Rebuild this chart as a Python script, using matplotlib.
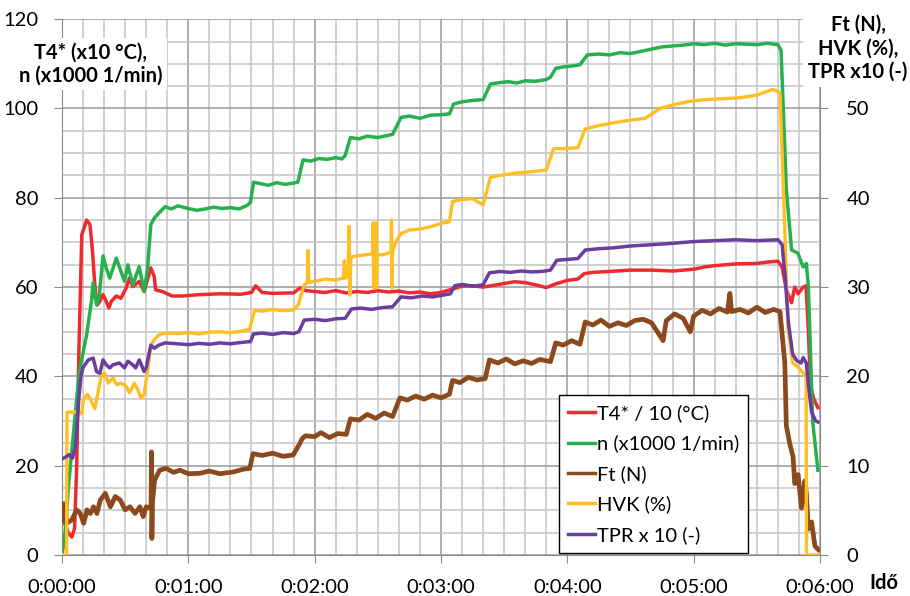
import matplotlib
matplotlib.use("Agg")
import matplotlib.pyplot as plt
from matplotlib.ticker import MultipleLocator, FuncFormatter

plt.rcParams['font.family'] = ['Lato', 'DejaVu Sans']

# --- adatok (idő másodpercben) ---
# T4* / 10 (°C) - bal tengely
t_t4 = [0, 1.5, 3, 4.7, 6, 7, 8, 9.4, 11.7, 13.3,
        14.5, 15.6, 16.7, 18, 19.5, 21, 22.3, 23.4, 25.8, 28,
        30.5, 32, 33.6, 36.7, 39, 42.2, 43.8, 44.5, 47.7, 52.3,
        57, 65, 75, 85, 90, 92, 95, 100, 110, 113,
        116, 120, 125, 130, 135, 140, 145, 150, 155, 160,
        165, 170, 175, 180, 185, 190, 195, 200, 205, 210,
        215, 220, 225, 230, 235, 240, 245, 248, 252, 260,
        270, 280, 290, 300, 305, 310, 320, 330, 335, 340,
        342, 344, 346.5, 348, 349.6, 352, 353.4, 354.5, 355.5, 357, 359]
t4 = [7, 7, 5, 4, 6, 20, 45, 71.7, 75, 74,
      68, 60.5, 56, 56.8, 58.3, 56.8, 55.3, 56.8, 58, 57.5,
      59.8, 62, 60.1, 61.3, 59, 64.3, 62.4, 59.4, 59, 58,
      58, 58.3, 58.5, 58.4, 58.8, 60.3, 58.8, 58.6, 58.7, 59.8,
      59.2, 59, 58.8, 59.2, 58.7, 59, 58.8, 59.2, 58.9, 59.1,
      58.7, 58.9, 58.5, 58.8, 59.5, 60.2, 60.3, 60, 60.4, 60.8,
      61.2, 61, 60.5, 59.9, 60.8, 61.5, 61.8, 63, 63.3, 63.5,
      63.8, 63.8, 63.6, 64, 64.5, 64.8, 65.2, 65.3, 65.6, 65.8,
      64.5, 59.5, 56.5, 60, 58.5, 60, 60.3, 50, 38, 35, 33]

# n (x1000 1/min) - bal tengely
t_n = [0, 1, 2, 3, 4.6, 6, 7.8, 8.6, 11.7, 14,
       14.8, 16.4, 17.6, 19.5, 21, 22.7, 25.8, 28, 29.7, 31.3,
       33.6, 36.7, 39, 40.6, 42.2, 43.8, 46, 49, 52, 55,
       60, 64, 68, 72, 76, 80, 84, 88, 89.5, 91,
       94, 98, 102, 106, 110, 112, 114.5, 118, 122, 126,
       130, 133, 134.5, 137, 141, 145, 150, 154, 157, 161,
       165, 170, 175, 180, 184, 186, 190, 195, 200, 203.5,
       208, 212, 216, 220, 225, 230, 232, 234.5, 238, 242,
       246, 249.5, 255, 260, 265, 270, 275, 280, 285, 290,
       295, 300, 305, 310, 315, 320, 325, 330, 335, 340,
       341.5, 344, 346.5, 349.5, 352, 353.5, 354.5, 356.5, 359]
n = [0, 3, 8, 15, 23, 30, 39, 42, 49.3, 56.8,
     61, 56, 57.5, 67, 64.3, 62, 66.5, 63.5, 61.3, 65,
     60.5, 64.6, 59, 64, 74, 75.4, 76.6, 78, 77.5, 78.2,
     77.6, 77.2, 77.5, 77.9, 77.6, 77.8, 77.5, 78.3, 79, 83.5,
     83.2, 82.8, 83.4, 83, 83.3, 83.5, 88.5, 88.2, 88.8, 88.6,
     89, 88.7, 89.5, 93.5, 93.2, 93.8, 93.5, 93.9, 94.2, 98,
     98.3, 97.8, 98.5, 98.6, 98.8, 101, 101.5, 101.8, 102, 105.5,
     105.8, 106, 105.7, 106.2, 106.1, 106.5, 107, 109, 109.3, 109.5,
     109.8, 112, 112.2, 112, 112.5, 112.3, 112.8, 113.3, 113.8, 114,
     114.2, 114.5, 114.3, 114.6, 114.2, 114.5, 114.4, 114.3, 114.6, 114.3,
     113, 82, 68.3, 67.6, 64.5, 65.3, 60, 30, 19]

# Ft (N) - jobb tengely
t_ft = [0, 0.8, 1.5, 2.2, 3.5, 4.6, 7, 8.7, 10.3, 11.9,
        13.5, 15, 16.6, 18.2, 20.6, 23, 25.3, 27.7, 30, 32.3,
        34.7, 37, 38.6, 40, 42.3, 42.5, 42.7, 43, 44, 46.4,
        49.5, 53, 56, 60, 65.5, 70, 75, 81.3, 86, 89.2,
        90.7, 95, 100, 105, 109.8, 113, 114, 115.6, 120, 123,
        127, 131, 135, 137, 141, 145, 149, 153, 157, 160.5,
        164, 168, 172, 176, 180, 184, 185.5, 189, 193, 197,
        201, 203, 207, 211, 215, 219, 223, 227, 232, 234.5,
        238, 242, 246, 248.5, 252, 256, 260, 264, 268, 272,
        276, 280, 285.5, 287, 291, 295, 298.4, 300, 304, 308,
        312, 316, 317.2, 318, 322, 326, 330, 334, 338, 341,
        343.3, 344, 345.6, 347.2, 348, 349.6, 351.2, 352.8, 353.6, 354.4,
        356, 357.6, 359.2]
ft = [3.9, 5.75, 5.25, 3.55, 3.75, 3.9, 5.05, 4.65, 3.55, 5.05,
      4.65, 5.4, 4.65, 6.15, 6.9, 5.4, 6.55, 6.15, 5.05, 5.4,
      4.65, 5.4, 4.3, 5.4, 5.25, 11.55, 1.85, 6.0, 8.4, 9.5,
      9.7, 9.25, 9.5, 9.1, 9.15, 9.4, 9.1, 9.3, 9.6, 9.7,
      11.35, 11.15, 11.4, 11.05, 11.2, 12.5, 13.0, 13.35, 13.25, 13.7,
      13.15, 13.6, 13.5, 15.25, 15.1, 15.75, 15.3, 15.9, 15.5, 17.6,
      17.35, 17.8, 17.45, 17.9, 17.6, 18.0, 19.55, 19.3, 19.9, 19.6,
      19.75, 21.85, 21.5, 21.95, 21.4, 21.75, 21.45, 21.9, 21.65, 23.75,
      23.5, 24.0, 23.6, 26.1, 25.75, 26.3, 25.6, 26.0, 25.7, 26.25,
      26.4, 26.0, 24.0, 26.25, 27.0, 26.5, 25.0, 26.75, 27.4, 27.0,
      27.6, 27.2, 29.3, 27.25, 27.5, 27.1, 27.75, 27.15, 27.5, 27.25,
      21.5, 14.5, 12.5, 11.0, 8.0, 9.0, 5.25, 8.3, 6.75, 2.9,
      3.7, 1.0, 0.6]

# HVK (%) - jobb tengely
t_hvk = [0, 2.2, 2.4, 7.8, 9.3, 10.1, 12, 13.3, 15.6, 17.2,
         18.8, 20.3, 21.9, 24.2, 26, 28, 30.5, 32, 34.4, 36,
         37.5, 39, 40.6, 42.2, 43.8, 46, 49, 55, 60, 65,
         70, 75, 80, 85, 89, 91.5, 95, 100, 105, 110,
         112.2, 115, 116.5, 116.9, 117.3, 120, 125, 130, 133.6, 134.1,
         134.6, 135.9, 136.3, 136.7, 137.2, 140, 144, 147.6, 147.8, 148,
         148.3, 149, 149.2, 149.4, 149.7, 152, 156.3, 156.5, 156.7, 157,
         159, 161, 165, 170, 175, 181, 184, 185.5, 190, 195,
         200, 203.5, 208, 215, 222, 230, 233.5, 238, 245, 248.5,
         255, 262, 270, 277, 284, 290, 298, 306, 314, 322,
         330, 337.7, 341, 343.2, 344.8, 347, 348.8, 352, 353.4, 353.6,
         359.7]
hvk = [0, 0, 16, 16, 15.8, 17.3, 18, 17.5, 16.4, 18.3,
       20.2, 20.35, 19.25, 19.8, 19.05, 19.25, 18.9, 18.15, 19.25, 18.5,
       17.6, 17.95, 20.55, 23.5, 24.1, 24.65, 24.85, 24.8, 24.9, 24.75,
       24.95, 25.0, 24.9, 25.05, 25.25, 27.4, 27.3, 27.5, 27.35, 27.45,
       28.0, 30.25, 30.5, 34.1, 30.5, 30.65, 30.9, 30.8, 31.0, 32.95,
       31.0, 31.25, 36.8, 29.1, 33.35, 33.5, 33.6, 33.75, 37.2, 29.9,
       33.5, 33.6, 37.2, 29.9, 33.65, 33.6, 33.9, 37.5, 29.9, 34.0,
       35.25, 36.0, 36.4, 36.5, 36.75, 37.2, 37.3, 39.6, 39.8, 39.9,
       39.2, 42.3, 42.5, 42.75, 42.9, 43.1, 45.5, 45.5, 45.6, 47.7,
       48.1, 48.4, 48.7, 48.9, 50.0, 50.4, 50.8, 51.0, 51.1, 51.2,
       51.5, 52.15, 51.75, 37.0, 25.4, 21.5, 21.2, 20.4, 20.0, 0,
       0]

# TPR x 10 (-) - jobb tengely
t_tpr = [0, 2, 3.5, 5, 6.3, 7, 8, 9, 10, 12.5,
         14.8, 16.4, 18, 19.5, 21, 22.7, 24.2, 27.3, 29.7, 31.3,
         33.6, 35, 36.7, 39, 40, 42.2, 43.8, 46, 49, 55,
         60, 65, 70, 75, 80, 85, 89.5, 91, 95, 100,
         105, 110, 112.5, 115, 120, 125, 130, 134.5, 137.5, 142,
         147, 152, 157, 161, 166, 171, 176, 181, 184.5, 186.5,
         190, 195, 200, 203, 208, 213, 218, 223, 228, 232,
         235, 240, 245, 248.5, 255, 262, 270, 280, 290, 300,
         310, 320, 330, 340, 342, 343.5, 345, 347, 349, 351,
         352, 353.5, 354.5, 356, 358, 359]
tpr = [10.75, 11.0, 11.25, 10.85, 12.0, 14.0, 17.5, 20.0, 21.0, 21.85,
       22.05, 20.55, 20.35, 21.85, 21.3, 20.95, 21.3, 21.5, 20.95, 21.7,
       21.3, 20.95, 21.85, 20.55, 20.95, 23.5, 23.15, 23.5, 23.75, 23.65,
       23.55, 23.7, 23.6, 23.75, 23.65, 23.8, 23.9, 24.75, 24.85, 24.7,
       24.9, 24.8, 25.0, 26.3, 26.4, 26.25, 26.45, 26.5, 27.55, 27.65,
       27.5, 27.7, 27.8, 28.9, 28.8, 29.0, 28.9, 29.1, 29.25, 30.15,
       30.3, 30.1, 30.25, 31.6, 31.75, 31.65, 31.8, 31.7, 31.75, 31.9,
       33.0, 33.1, 33.2, 34.15, 34.3, 34.4, 34.6, 34.75, 34.9, 35.1,
       35.2, 35.3, 35.2, 35.3, 34.75, 31.0, 26.0, 22.5, 21.75, 21.5,
       22.1, 21.5, 19.0, 16.0, 15.0, 14.9]

labels = ["T4* / 10 (°C)", "n (x1000 1/min)", "Ft (N)", "HVK (%)", "TPR x 10 (-)"]
colors = ["#EE2A2E", "#27B04E", "#8B4A1E", "#FFBE22", "#6A3D9E"]

ax_color = "#8c8c8c"


def ido(x, pos):
    s = int(round(x))
    return f"{s // 3600}:{s // 60 % 60:02d}:{s % 60:02d}"


fig = plt.figure(figsize=(9.1, 5.96), dpi=100)
ax = fig.add_axes([0.0681, 0.0688, 0.833, 0.899])
ax2 = ax.twinx()

# --- rács és tengelyek ---
ax.set_xlim(0, 360)
ax.set_ylim(0, 120)
ax.xaxis.set_major_locator(MultipleLocator(60))
ax.xaxis.set_minor_locator(MultipleLocator(10))
ax.yaxis.set_major_locator(MultipleLocator(20))
ax.yaxis.set_minor_locator(MultipleLocator(5))
ax.xaxis.set_major_formatter(FuncFormatter(ido))
ax.set_axisbelow(True)
ax.grid(which='minor', color='#c4c4c4', linewidth=1.1)
ax.grid(which='major', color='#999999', linewidth=1.1)

ax2.set_ylim(0, 60)
ax2.set_yticks([0, 10, 20, 30, 40, 50])

for a in (ax, ax2):
    a.spines['top'].set_visible(False)
    for sp in a.spines.values():
        sp.set_color(ax_color)
ax.spines['right'].set_visible(False)
ax2.spines['left'].set_visible(False)
ax2.spines['bottom'].set_visible(False)

ax.tick_params(which='major', length=6, color=ax_color, labelsize=14.5)
ax.tick_params(which='minor', length=0)
ax.tick_params(axis='y', pad=11)
ax.tick_params(axis='x', pad=11)
ax2.tick_params(length=6, color=ax_color, labelsize=14.5, pad=13)

# --- görbék ---
l1, = ax.plot(t_t4, t4, color=colors[0], lw=2.5, label=labels[0])
l2, = ax.plot(t_n, n, color=colors[1], lw=2.5, label=labels[1])
l3, = ax2.plot(t_ft, ft, color=colors[2], lw=3.4, label=labels[2])
l4, = ax2.plot(t_hvk, hvk, color=colors[3], lw=2.4, label=labels[3])
l5, = ax2.plot(t_tpr, tpr, color=colors[4], lw=2.5, label=labels[4])

leg = ax2.legend(handles=[l1, l2, l3, l4, l5], loc='lower right',
                 bbox_to_anchor=(0.905, 0.004), borderaxespad=0,
                 fontsize=14.5, frameon=True, fancybox=False, framealpha=1,
                 edgecolor='black', handlelength=1.3, handletextpad=0.1,
                 labelspacing=0.62, borderpad=0.45)
leg.get_frame().set_linewidth(1.0)
for h in leg.get_lines():
    h.set_linewidth(2.5)

# --- tengelyfeliratok ---
fig.text(0.1, 0.893, "T4* (x10 °C),\nn (x1000 1/min)", ha='center', va='center',
         fontsize=14.5, weight='bold', linespacing=1.2,
         bbox=dict(facecolor='white', edgecolor='none', pad=3))
fig.text(0.943, 0.919, "Ft (N),\nHVK (%),\nTPR x10 (-)", ha='center', va='center',
         fontsize=14.5, weight='bold', linespacing=1.2,
         bbox=dict(facecolor='white', edgecolor='none', pad=4))
fig.text(0.971, 0.022, "Idő", ha='center', va='center', fontsize=14.5, weight='bold')

fig.savefig("out.png", dpi=100)
